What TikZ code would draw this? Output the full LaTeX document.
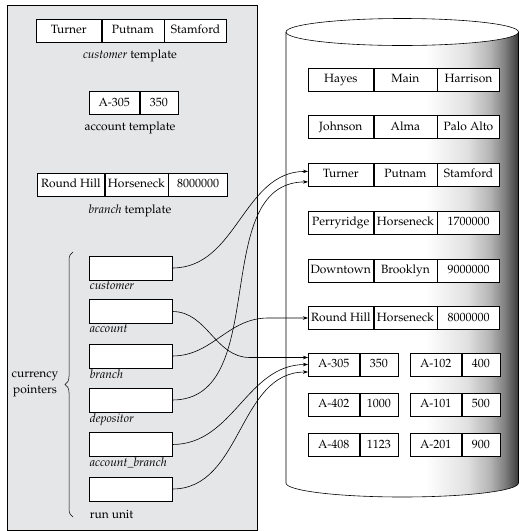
\documentclass[tikz,border=0pt]{standalone}
\usepackage[T1]{fontenc}
\usepackage{mathpazo}
\usetikzlibrary{arrows.meta,positioning,decorations.pathreplacing}
\definecolor{panelgray}{RGB}{229,230,232}
\pgfdeclarehorizontalshading{drumshade}{100bp}{color(0bp)=(white); color(55bp)=(white);
  color(64bp)=(black!12); color(69bp)=(black!30); color(72bp)=(black!50); color(74bp)=(black!68);
  color(75bp)=(black!78); color(100bp)=(black!78)}
\newcommand{\recfont}{\fontsize{12}{14}\selectfont}

\begin{document}
\begin{tikzpicture}[
  x=1pt,y=-1pt,
  cell/.style={rectangle,draw=black,fill=white,line width=0.6pt,minimum height=23pt,
               inner sep=2pt,text height=8.5pt,text depth=2.5pt,font=\recfont},
  wide/.style={cell,minimum width=#1},
  ptrbox/.style={rectangle,draw=black,fill=white,line width=0.6pt,
                 minimum width=83pt,minimum height=24pt},
  caption/.style={font=\recfont,inner sep=1pt},
  ptr/.style={-{Stealth[length=5pt,width=3.5pt]},line width=0.6pt}
]
\useasboundingbox (0,0) rectangle (519,531);

\draw[fill=panelgray,line width=0.6pt] (7,5) rectangle (257,530);

\shade[shading=drumshade] (286,32) -- (286,483)
  arc[start angle=180,end angle=360,x radius=116.25pt,y radius=14pt] -- (518.5,32) -- cycle;
\draw[fill=white,line width=0.6pt] (402.25,32) ellipse[x radius=116.25pt,y radius=13.5pt];
\draw[line width=0.6pt] (286,32) -- (286,483)
  arc[start angle=180,end angle=360,x radius=116.25pt,y radius=14pt] -- (518.5,32);

\node[wide=65pt,anchor=west] (tcust-1) at (36,30.5) {Turner};
\node[wide=62pt,right=0pt of tcust-1] (tcust-2) {Putnam};
\node[wide=62pt,right=0pt of tcust-2] (tcust-3) {Stamford};
\node[caption] (tcustcap) at (130,56) {\textit{customer} template};

\node[wide=50pt,anchor=west] (tacct-1) at (89,103) {A-305};
\node[wide=38pt,right=0pt of tacct-1] (tacct-2) {350};
\node[caption] (tacctcap) at (130,128) {account template};

\node[wide=67pt,anchor=west] (tbrch-1) at (37,184.5) {Round Hill};
\node[wide=63pt,right=0pt of tbrch-1] (tbrch-2) {Horseneck};
\node[wide=59pt,right=0pt of tbrch-2] (tbrch-3) {8000000};
\node[caption] (tbrchcap) at (130,211) {\textit{branch} template};

\foreach \a/\b/\c/\y/\n in {Hayes/Main/Harrison/79.5/hayes, Johnson/Alma/Palo Alto/127.2/johnson,
    Turner/Putnam/Stamford/174.9/turner, Perryridge/Horseneck/1700000/222.6/perry,
    Downtown/Brooklyn/9000000/270.3/down, Round Hill/Horseneck/8000000/318/rh}{
  \node[wide=65pt,anchor=west] (\n-1) at (308,\y) {\a};
  \node[wide=63pt,right=0pt of \n-1] (\n-2) {\b};
  \node[wide=62pt,right=0pt of \n-2] (\n-3) {\c};
}

\foreach \a/\b/\x/\y/\n in {A-305/350/308/364.5/a305, A-102/400/410/364.5/a102,
    A-402/1000/308/404.5/a402, A-101/500/410/404.5/a101,
    A-408/1123/308/445/a408, A-201/900/410/445/a201}{
  \node[wide=51pt,anchor=west] (\n-1) at (\x,\y) {\a};
  \node[wide=38pt,right=0pt of \n-1] (\n-2) {\b};
}

\foreach \n/\t/\y/\d in {cust/\textit{customer}/268/0, acct/\textit{account}/311.5/0,
    brch/\textit{branch}/356/0, dep/\textit{depositor}/400/0,
    acbr/\textit{account\_branch}/444.5/0, run/run unit/489/8}{
  \node[ptrbox] (\n) at (130.5,\y) {};
  \node[caption,anchor=north west,yshift=-\d pt] (\n-lbl) at (\n.south west) {\t};
}

\coordinate (bracetop) at (73,252);
\coordinate (bracebot) at (73,517);
\draw[decorate,decoration={brace,amplitude=8pt},line width=0.5pt] (bracebot) -- (bracetop);
\node[caption,align=center] (curlbl) at (35,384) {currency\\[2pt]pointers};

\draw[ptr] (cust.east) to[out=0,in=180] ([yshift=3.5pt]turner-1.west);
\draw[ptr] (dep.east) to[out=0,in=180] ([yshift=-7pt]turner-1.west);
\draw[ptr] (acct.east) to[out=0,in=180] ([xshift=-58pt,yshift=7pt]a305-1.west)
  -- ([yshift=7pt]a305-1.west);
\draw[ptr] (brch.east) to[out=0,in=180] ([xshift=-40pt]rh-1.west) -- (rh-1.west);
\draw[ptr] (acbr.east) to[out=0,in=180] (a305-1.west);
\draw[ptr] (run.east) to[out=0,in=180] ([yshift=-7.5pt]a305-1.west);
\end{tikzpicture}
\end{document}
